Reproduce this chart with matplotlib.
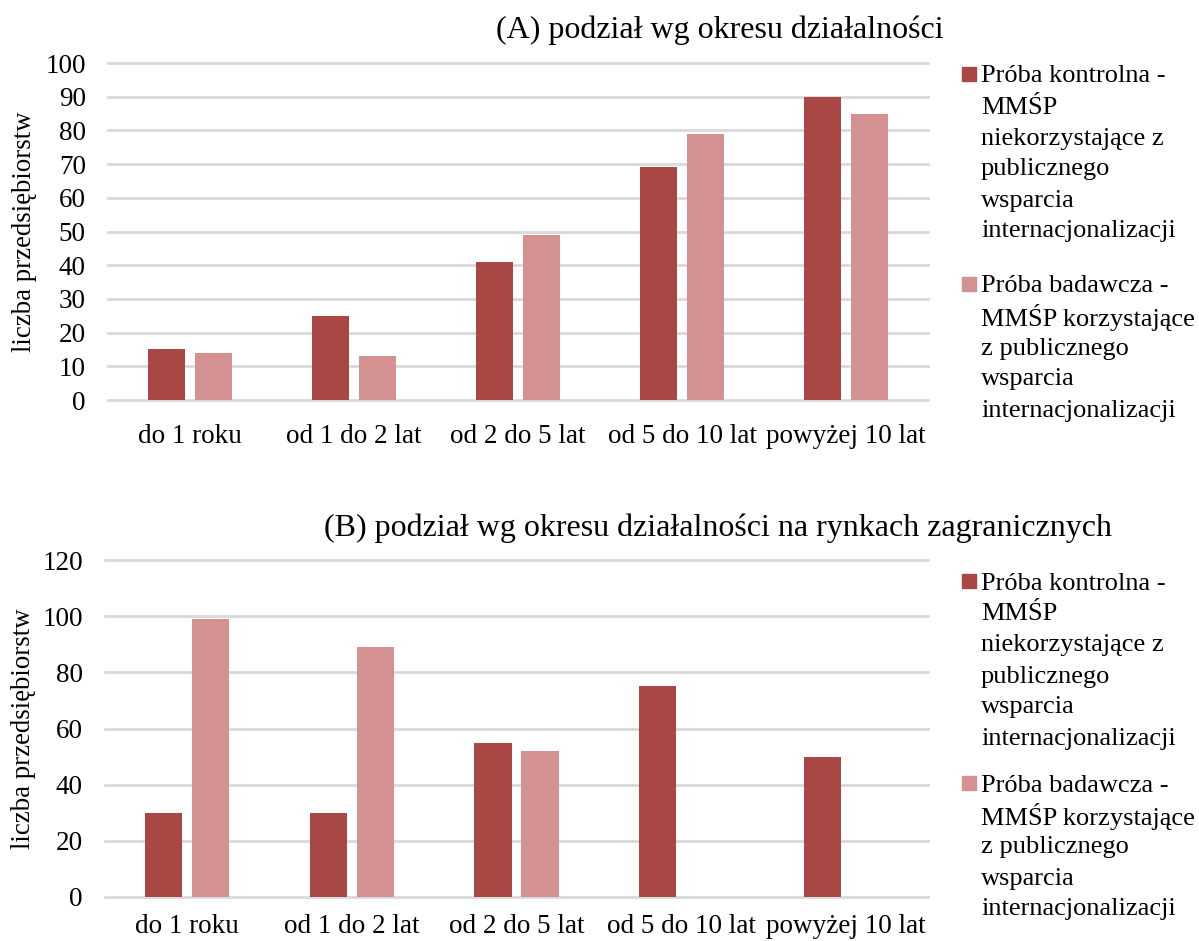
import matplotlib
matplotlib.use("Agg")
import matplotlib.pyplot as plt
from matplotlib.patches import Rectangle
import numpy as np

plt.rcParams['font.family'] = ['Liberation Serif', 'DejaVu Serif']

categories = ["do 1 roku", "od 1 do 2 lat", "od 2 do 5 lat", "od 5 do 10 lat", "powyżej 10 lat"]

# (A) by period of activity
a_control = [15, 25, 41, 69, 90]
a_research = [14, 13, 49, 79, 85]

# (B) by period of activity on foreign markets
b_control = [30, 30, 55, 75, 50]
b_research = [99, 89, 52, 0, 0]

title_a = "(A) podział wg okresu działalności"
title_b = "(B) podział wg okresu działalności na rynkach zagranicznych"
ylabel = "liczba przedsiębiorstw"
legend_control = ["Próba kontrolna -", "MMŚP", "niekorzystające z", "publicznego",
                  "wsparcia", "internacjonalizacji"]
legend_research = ["Próba badawcza -", "MMŚP korzystające", "z publicznego",
                   "wsparcia", "internacjonalizacji"]

C_DARK = "#A94745"
C_LIGHT = "#D39291"
GRID = "#D9D9D9"
FS_TICK = 19.5
FS_LEG = 19
FS_TITLE = 23
FS_YLAB = 19.3

W, H = 1199, 941
fig = plt.figure(figsize=(W / 100, H / 100), dpi=100)


def px_axes(left, right, y0, ytop):
    return fig.add_axes([left / W, 1 - y0 / H, (right - left) / W, (y0 - ytop) / H])


def draw_panel(ax, control, research, ymax, step, xpad):
    x = np.arange(len(categories))
    bw = 0.226
    off = 0.143
    ax.bar(x - off, control, bw, color=C_DARK, zorder=3)
    ax.bar(x + off, research, bw, color=C_LIGHT, zorder=3)
    ax.set_xlim(-0.5, len(categories) - 0.5)
    ax.set_ylim(0, ymax)
    ax.set_yticks(np.arange(0, ymax + 1, step))
    ax.set_xticks(x)
    ax.set_xticklabels(categories)
    for s in ax.spines.values():
        s.set_visible(False)
    ax.grid(axis='y', color=GRID, linewidth=2)
    for gl in ax.get_ygridlines():
        gl.set_clip_on(False)
    ax.set_axisbelow(True)
    ax.tick_params(axis='both', length=0, labelsize=FS_TICK)
    ax.tick_params(axis='y', pad=16)
    ax.tick_params(axis='x', pad=xpad)
    ax.set_ylabel(ylabel, fontsize=FS_YLAB)


def draw_legend(y_first, y_second, step=31):
    for y0, lines, col in ((y_first, legend_control, C_DARK),
                           (y_second, legend_research, C_LIGHT)):
        fig.patches.append(Rectangle((962 / W, 1 - (y0 + 7) / H), 14 / W, 14 / H,
                                     transform=fig.transFigure, color=col))
        for i, line in enumerate(lines):
            fig.text(981 / W, 1 - (y0 + i * step) / H, line, fontsize=FS_LEG,
                     ha='left', va='center_baseline')


ax_a = px_axes(108, 928, 400, 63)
draw_panel(ax_a, a_control, a_research, 100, 10, 17)
ax_a.yaxis.set_label_coords((24 - 108) / 820, 0.5)
ax_a.yaxis.label.set_va('center')
fig.text(720 / W, 1 - 30 / H, title_a, fontsize=FS_TITLE, ha='center', va='center')
draw_legend(74, 284)

ax_b = px_axes(105, 928, 897, 560)
draw_panel(ax_b, b_control, b_research, 120, 20, 12)
ax_b.yaxis.set_label_coords((24 - 105) / 823, 0.5)
ax_b.yaxis.label.set_va('center')
fig.text(718 / W, 1 - 528 / H, title_b, fontsize=FS_TITLE, ha='center', va='center')
draw_legend(581, 783)

fig.savefig("out.png", dpi=100)
